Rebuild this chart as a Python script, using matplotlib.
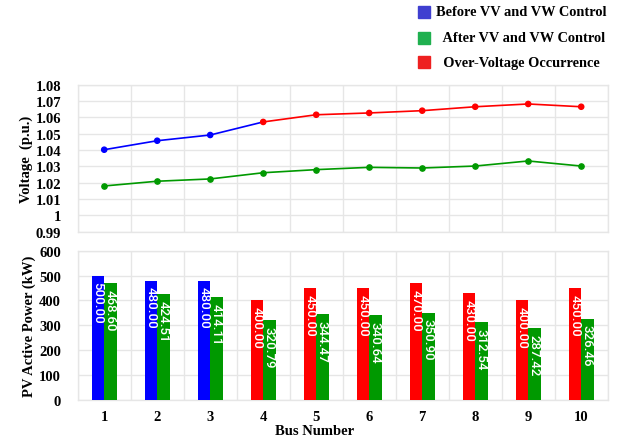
import matplotlib
matplotlib.use("Agg")
import matplotlib.pyplot as plt
from matplotlib.patches import Rectangle
import numpy as np

buses = [1, 2, 3, 4, 5, 6, 7, 8, 9, 10]
v_before = [1.0402, 1.0457, 1.0492, 1.0572, 1.0616, 1.0627, 1.0641, 1.0665, 1.0682, 1.0665]
v_after = [1.0180, 1.0209, 1.0223, 1.0261, 1.0280, 1.0294, 1.0290, 1.0302, 1.0333, 1.0302]
p_before = [500.00, 480.00, 480.00, 400.00, 450.00, 450.00, 470.00, 430.00, 400.00, 450.00]
p_after = [468.60, 424.51, 414.11, 320.79, 344.47, 340.64, 350.90, 312.54, 287.42, 326.46]
overvoltage = [False, False, False, True, True, True, True, True, True, True]
v_ticks = [0.99, 1.00, 1.01, 1.02, 1.03, 1.04, 1.05, 1.06, 1.07, 1.08]
v_ticklabels = ["0.99", "1", "1.01", "1.02", "1.03", "1.04", "1.05", "1.06", "1.07", "1.08"]
p_ticks = [0, 100, 200, 300, 400, 500, 600]
legend_labels = ["Before VV and VW Control", "  After VV and VW Control", "  Over-Voltage Occurrence"]

BLUE = "#0000ff"
GREEN = "#009900"
RED = "#ff0000"
GRID = "#e6e6e6"
SERIF = "Liberation Serif"

fig = plt.figure(figsize=(6.18, 4.39), dpi=100)
W, H = 618, 439

def ax_rect(x0, y0, x1, y1):
    return [x0 / W, 1 - y1 / H, (x1 - x0) / W, (y1 - y0) / H]

ax1 = fig.add_axes(ax_rect(77.7, 85.7, 607.7, 232.7))
ax2 = fig.add_axes(ax_rect(77.7, 251.7, 607.7, 401.0))

x = np.arange(len(buses))

for ax in (ax1, ax2):
    ax.set_xlim(-0.5, len(buses) - 0.5)
    ax.set_xticks(np.arange(len(buses) + 1) - 0.5, minor=True)
    ax.grid(True, which="minor", axis="x", color=GRID, lw=1.0)
    ax.grid(True, which="major", axis="y", color=GRID, lw=1.0)
    ax.set_axisbelow(True)
    for s in ax.spines.values():
        s.set_color(GRID)
        s.set_linewidth(1.0)
    ax.tick_params(which="both", length=0)

# Top: voltage
split = overvoltage.index(True)
ax1.plot(x[:split + 1], v_before[:split + 1], color=BLUE, lw=1.2, zorder=3)
ax1.plot(x[split:], v_before[split:], color=RED, lw=1.2, zorder=3)
mcol = [RED if o else BLUE for o in overvoltage]
ax1.scatter(x, v_before, color=mcol, s=14, zorder=4)
ax1.plot(x, v_after, color=GREEN, lw=1.2, marker="o", ms=3.8, zorder=3)
ax1.set_ylim(0.99, 1.08)
ax1.set_yticks(v_ticks)
ax1.set_yticklabels(v_ticklabels)
ax1.set_xticks([])
ax1.tick_params(axis="y", pad=12)
ax1.set_ylabel("Voltage  (p.u.)", fontfamily=SERIF, fontweight="bold", fontsize=10.5, labelpad=2)

# Bottom: power
bw = 0.235
bcol = [RED if o else BLUE for o in overvoltage]
b1 = ax2.bar(x - bw / 2, p_before, width=bw, color=bcol, zorder=3)
b2 = ax2.bar(x + bw / 2, p_after, width=bw, color=GREEN, zorder=3)
for bars, vals in ((b1, p_before), (b2, p_after)):
    for r, v in zip(bars, vals):
        ax2.annotate(f"{v:.2f}", (r.get_x() + r.get_width() / 2, v), xytext=(0, -4),
                     textcoords="offset points", rotation=270, ha="center", va="top",
                     color="white", fontsize=9.5, fontfamily="Roboto", fontweight="medium",
                     zorder=5)
ax2.set_ylim(0, 600)
ax2.set_yticks(p_ticks)
ax2.set_xticks(x)
ax2.set_xticklabels([str(b) for b in buses])
ax2.tick_params(axis="y", pad=12)
ax2.tick_params(axis="x", pad=7)
ax2.set_ylabel("PV Active Power (kW)", fontfamily=SERIF, fontweight="bold", fontsize=10.5, labelpad=2)

for ax in (ax1, ax2):
    for lab in ax.get_yticklabels() + ax.get_xticklabels():
        lab.set_fontfamily(SERIF)
        lab.set_fontweight("bold")
        lab.set_fontsize(10.5)

fig.text(315 / W, 1 - 432 / H, "Bus Number", ha="center", va="center",
         fontfamily=SERIF, fontweight="bold", fontsize=10.5)

# Legend
leg_colors = ["#3f3fd0", "#1fb04f", "#ee2020"]
leg_y = [13, 38.5, 63.3]
for lab, c, yy in zip(legend_labels, leg_colors, leg_y):
    fig.patches.append(Rectangle((418 / W, 1 - (yy + 6) / H), 12 / W, 12 / H,
                                 transform=fig.transFigure, color=c, figure=fig))
    fig.text(436 / W, 1 - yy / H, lab, ha="left", va="center",
             fontfamily=SERIF, fontweight="bold", fontsize=10.4)

fig.savefig("out.png", dpi=100)
